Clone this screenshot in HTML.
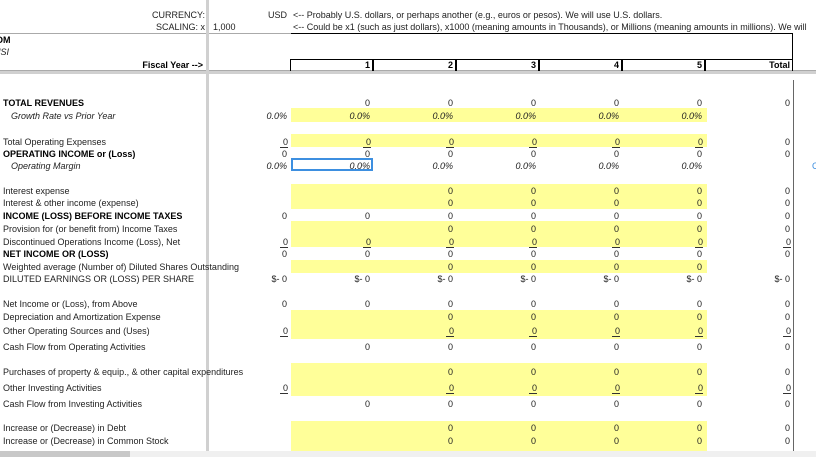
<!DOCTYPE html>
<html><head><meta charset="utf-8">
<style>
body{margin:0;width:816px;height:457px;overflow:hidden;background:#fff;font-family:"Liberation Sans",sans-serif;position:relative}
.a{position:absolute;white-space:nowrap;font-size:9px;line-height:11px;color:#222}
.r{text-align:right}
.b{font-weight:bold;color:#000}
.i{font-style:italic}
.y{position:absolute;background:#ffff99}
.ln{position:absolute}
.u{border-bottom:1px solid #333;padding:0 0 0 3px}
</style></head><body>
<div id="root"></div>
<script>
const labels=["TOTAL REVENUES","Growth Rate vs Prior Year","Total Operating Expenses","OPERATING INCOME or (Loss)","Operating Margin","Interest expense","Interest & other income (expense)","INCOME (LOSS) BEFORE INCOME TAXES","Provision for (or benefit from) Income Taxes","Discontinued Operations Income (Loss), Net","NET INCOME OR (LOSS)","Weighted average (Number of) Diluted Shares Outstanding","DILUTED EARNINGS OR (LOSS) PER SHARE","Net Income or (Loss), from Above","Depreciation and Amortization Expense","Other Operating Sources and (Uses)","Cash Flow from Operating Activities","Purchases of property & equip., & other capital expenditures","Other Investing Activities","Cash Flow from Investing Activities","Increase or (Decrease) in Debt","Increase or (Decrease) in Common Stock"];
const rowY=[102,115,141,153,165,190,202,215,228,241,253,266,278,303,316,330,346,371,387,403,427,440];
const styles=["b","i","","b","i","","","b","","","b","","","","","","","","","","",""];
const P="0.0%",U="u0",D="$- 0";
const cells=[
["","0","0","0","0","0","0"],
[P,P,P,P,P,P,""],
[U,U,U,U,U,U,"0"],
["0","0","0","0","0","0","0"],
[P,P,P,P,P,P,""],
["","","0","0","0","0","0"],
["","","0","0","0","0","0"],
["0","0","0","0","0","0","0"],
["","","0","0","0","0","0"],
[U,U,U,U,U,U,U],
["0","0","0","0","0","0","0"],
["","","0","0","0","0",""],
[D,D,D,D,D,D,D],
["0","0","0","0","0","0","0"],
["","","0","0","0","0","0"],
[U,"",U,U,U,U,U],
["","0","0","0","0","0","0"],
["","","0","0","0","0","0"],
[U,"",U,U,U,U,U],
["","0","0","0","0","0","0"],
["","","0","0","0","0","0"],
["","","0","0","0","0","0"]];
const colRight=[287,370,453,536,619,702,790];
const root=document.getElementById('root');
function box(cls,x,y,w,h,bg,name){const el=document.createElement('div');el.className=cls;


el.style.left=x+'px';el.style.top=y+'px';el.style.width=w+'px';el.style.height=h+'px';if(bg)el.style.background=bg;root.appendChild(el);return el;}
function txt(x,y,s,cls,name,right){const el=document.createElement('div');el.className='a '+(cls||'');


if(right){el.style.right=(816-x)+'px';el.style.textAlign='right';}else el.style.left=x+'px';
el.style.top=(y-4)+'px';el.innerHTML=s;root.appendChild(el);return el;}
[[108,14],[134,13],[184,25],[221,26],[260,13],[310,29],[363,33],[421,30]].forEach(b=>box('y',291,b[0],416,b[1],null,'input-band'));
box('ln',0,33,793,1,'#aaa','header-rule');
box('ln',0,70,816,1,'#aaa','header-bottom-rule');
box('ln',0,71,816,3,'#d0d0d0','frozen-row-divider');
box('ln',206,0,3,451,'#d0d0d0','frozen-col-divider');
box('ln',291,33,502,1,'#000','header-box-top');
box('ln',291,59,502,1,'#000','fiscal-row-top');
box('ln',792,33,1,38,'#000','header-box-right');
box('ln',290,59,1,12,'#000','fiscal-col-left');
box('ln',793,80,1,371,'#666','total-col-border');
box('ln',0,451,816,6,'#f0f0f0','scrollbar-track');
box('ln',0,451,130,6,'#c8c8c8','scrollbar-thumb');
txt(205,14,'CURRENCY:','',"currency-label",true);
txt(287,14,'USD','',"currency-value",true);
txt(293,14,'&lt;-- Probably U.S. dollars, or perhaps another (e.g., euros or pesos). We will use U.S. dollars.','',"currency-note");
txt(205,26,'SCALING: x','',"scaling-label",true);
txt(213,26,'1,000','',"scaling-value");
txt(293,26,'&lt;-- Could be x1 (such as just dollars), x1000 (meaning amounts in Thousands), or Millions (meaning amounts in millions). We will','',"scaling-note");
txt(-4,39,'OM','b',"company-name");
txt(-4,51,'JSI','i',"company-ticker");
txt(203,64,'Fiscal Year --&gt;','b',"fiscal-year-label",true);
const years=["1","2","3","4","5","Total"];
years.forEach((yv,i)=>{const r=colRight[i+1];
if(i<5)box('ln',r+2,59,2,12,'#000','year-divider');
txt(r,64,yv,'b',"fiscal-year-"+yv.toLowerCase(),true);});
const sel=box('ln',291,158,82,13,null,'selected-cell');sel.style.border='2px solid #3d8fe0';sel.style.boxSizing='border-box';
txt(812,165,'C','',"overflow-text").style.color='#3d8fe0';
labels.forEach((lab,i)=>{const y=rowY[i];const st=styles[i];
txt(3+(st==='i'?8:0),y,lab.replace(/&/g,'&amp;'),st,"row-label");
cells[i].forEach((v,c)=>{if(!v)return;let s=v==='u0'?'<span class="u">0</span>':v;
txt(colRight[c]+(v==='u0'?1:0),y,s,st==='i'?'i':'',"value-cell",true);});});
</script>
</body></html>
